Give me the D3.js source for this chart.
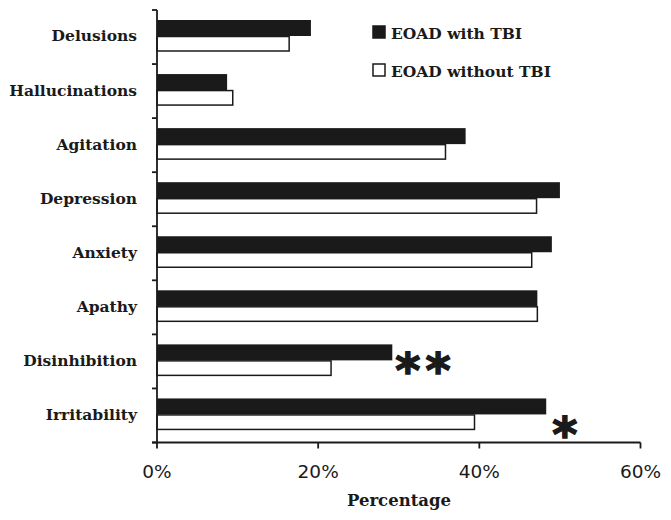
<!DOCTYPE html>
<html><head><meta charset="utf-8">
<script src="https://cdn.jsdelivr.net/npm/d3@7"></script>
<style>body{margin:0;background:#fff}</style>
</head><body>
<svg id="c" width="671" height="520"></svg>
<script>
const categories = ["Delusions","Hallucinations","Agitation","Depression","Anxiety","Apathy","Disinhibition","Irritability"];
const withTBI = [19.1, 8.7, 38.3, 50.0, 49.0, 47.2, 29.2, 48.3];
const withoutTBI = [16.4, 9.4, 35.8, 47.1, 46.5, 47.2, 21.6, 39.4];
const seriesNames = ["EOAD with TBI","EOAD without TBI"];
const xTicks = [0, 20, 40, 60];
const significance = [{cat:"Disinhibition", mark:"**", at:29.2}, {cat:"Irritability", mark:"*", at:48.3}];

(function(){
const svg = d3.select("#c");
const font = "'DejaVu Serif', serif";
const mLeft = 157, mRight = 640.5, mTop = 10, mBottom = 442.5;
const x = d3.scaleLinear().domain([0,60]).range([mLeft,mRight]);
const y = d3.scaleBand().domain(categories).range([mTop,mBottom]);
const barH = 16, offTop = 10;

const g = svg.append("g");
categories.forEach((c,i)=>{
  const y0 = y(c) + offTop;
  g.append("rect").attr("x", x(0)).attr("y", y0).attr("width", x(withTBI[i]) - x(0)).attr("height", barH)
    .attr("fill","#1a1a1a");
  g.append("rect").attr("x", x(0)).attr("y", y0 + barH + 0.5).attr("width", x(withoutTBI[i]) - x(0)).attr("height", barH - 1.5)
    .attr("fill","#fff").attr("stroke","#1a1a1a").attr("stroke-width",1.5);
});

const ya = svg.append("g").attr("transform",`translate(${mLeft},0)`);
ya.append("line").attr("x1",0).attr("x2",0).attr("y1",mTop).attr("y2",mBottom).attr("stroke","#1a1a1a").attr("stroke-width",1.8);
const yEdges = categories.map(c=>y(c)).concat([mBottom]);
yEdges.forEach(v=>ya.append("line").attr("x1",-5).attr("x2",0).attr("y1",v).attr("y2",v).attr("stroke","#1a1a1a").attr("stroke-width",1.8));
categories.forEach(c=>{
  ya.append("text").attr("x",-20).attr("y", y(c)+y.bandwidth()/2 - 1).attr("dy","0.35em")
    .attr("text-anchor","end").attr("font-family",font).attr("font-weight","bold").attr("font-size",15.5)
    .attr("fill","#1a1a1a").text(c);
});

const xa = svg.append("g").attr("transform",`translate(0,${mBottom})`);
xa.append("line").attr("x1",mLeft-5).attr("x2",mRight).attr("y1",0).attr("y2",0).attr("stroke","#1a1a1a").attr("stroke-width",1.8);
xTicks.forEach(t=>{
  xa.append("line").attr("x1",x(t)).attr("x2",x(t)).attr("y1",0).attr("y2",6).attr("stroke","#1a1a1a").attr("stroke-width",1.8);
  xa.append("text").attr("x",x(t)).attr("y",35).attr("text-anchor","middle")
    .attr("font-family","'DejaVu Sans', sans-serif").attr("font-size",18.5).attr("fill","#1a1a1a").text(t+"%");
});
svg.append("text").attr("x",399).attr("y",506).attr("text-anchor","middle").attr("font-family",font)
  .attr("font-weight","bold").attr("font-size",16.5).attr("fill","#1a1a1a").text("Percentage");

significance.forEach(s=>{
  const isDouble = s.mark.length === 2;
  const xx = isDouble ? x(s.at) + 3 : x(s.at) + 6;
  const yy = y(s.cat) + offTop + (isDouble ? barH + 27 : barH*2 + 21);
  svg.append("text").attr("x", xx).attr("y", yy).attr("font-family","'DejaVu Sans', sans-serif").attr("font-weight","bold")
    .attr("font-size",48).attr("letter-spacing",5).attr("fill","#1a1a1a").attr("stroke","#1a1a1a").attr("stroke-width",1.5).text(s.mark);
});

const lg = svg.append("g");
seriesNames.forEach((n,i)=>{
  const ly = 26 + i*38;
  lg.append("rect").attr("x",373).attr("y",ly).attr("width",12).attr("height",12)
    .attr("fill", i===0 ? "#1a1a1a" : "#fff").attr("stroke","#1a1a1a").attr("stroke-width",1.5);
  lg.append("text").attr("x",391).attr("y",ly+12.5).attr("font-family",font).attr("font-weight","bold")
    .attr("font-size",15.5).attr("fill","#1a1a1a").text(n);
});
})();
</script>
</body></html>
